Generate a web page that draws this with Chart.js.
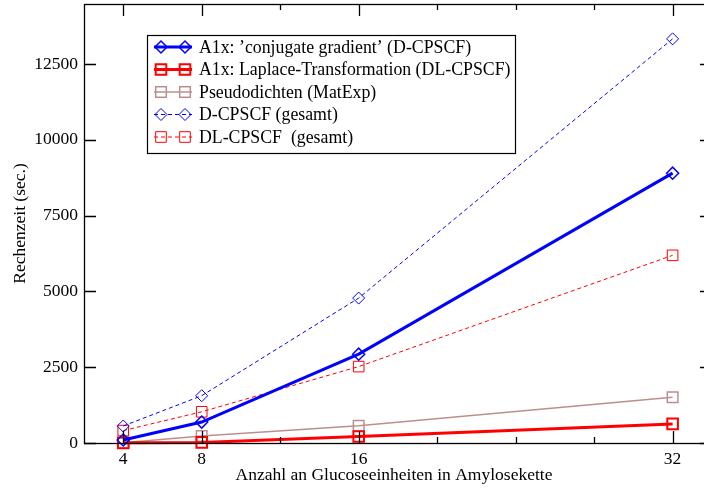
<!DOCTYPE html>
<html>
<head>
<meta charset="utf-8">
<script src="https://cdn.jsdelivr.net/npm/chart.js@4"></script>
<style>
  html, body { margin: 0; padding: 0; background: #fff; }
</style>
</head>
<body>
<canvas id="graph" width="704" height="491"></canvas>
<script>
// values
const glucoseUnits = [4, 8, 16, 32];
const cgA1x = [100, 690, 2930, 8900];
const laplaceA1x = [5, 20, 215, 630];
const pseudoDensities = [10, 230, 565, 1510];
const dTotal = [560, 1560, 4780, 13330];
const dlTotal = [410, 1030, 2520, 6190];

const seriesLabels = [
  'A1x: \u2019conjugate gradient\u2019 (D-CPSCF)',
  'A1x: Laplace-Transformation (DL-CPSCF)',
  'Pseudodichten (MatExp)',
  'D-CPSCF (gesamt)',
  'DL-CPSCF  (gesamt)'
];
const yTickValues = [0, 2500, 5000, 7500, 10000, 12500];
const xMinorTicks = [12, 20, 24, 28];

const canvas = document.getElementById('graph');
const ctx = canvas.getContext('2d');

Chart.defaults.font.family = "'Liberation Serif', 'Times New Roman', serif";
Chart.defaults.font.size = 17.5;
Chart.defaults.color = '#000';

function series(label, values, color, width, dash, style, radius, pw) {
  return {
    label: label,
    data: glucoseUnits.map((x, i) => ({ x: x, y: values[i] })),
    borderColor: color,
    borderWidth: width,
    borderDash: dash,
    pointStyle: style,
    pointRadius: radius,
    pointBorderWidth: pw,
    pointBorderColor: color,
    pointBackgroundColor: 'rgba(0,0,0,0)',
    fill: false,
    tension: 0,
    clip: false
  };
}

const datasets = [
  series(seriesLabels[0], cgA1x, '#0000ff', 3, [], 'rectRot', 6, 1.5),
  series(seriesLabels[1], laplaceA1x, '#ff0000', 3, [], 'rect', 7.5, 2),
  series(seriesLabels[2], pseudoDensities, '#bc8f8f', 1.5, [], 'rect', 7.5, 1.5),
  series(seriesLabels[3], dTotal, '#0000ff', 1, [4, 3], 'rectRot', 6, 1),
  series(seriesLabels[4], dlTotal, '#ff0000', 1, [4, 3], 'rect', 7.5, 1)
];

// frame with inward ticks, like the xmgrace original
// (the right edge of the frame lies just outside the picture)
const frameTicks = {
  id: 'frameTicks',
  afterDraw(chart) {
    const c = chart.ctx;
    const a = chart.chartArea;
    const xs = chart.scales.x, ys = chart.scales.y;
    c.save();
    c.strokeStyle = '#000';
    c.lineWidth = 1.3;
    c.setLineDash([]);
    c.strokeRect(a.left + 0.5, a.top + 0.5, a.right - a.left + 8, a.bottom - a.top);
    c.beginPath();
    glucoseUnits.forEach(v => {
      const px = Math.round(xs.getPixelForValue(v)) + 0.5;
      c.moveTo(px, a.bottom); c.lineTo(px, a.bottom - 12);
      c.moveTo(px, a.top); c.lineTo(px, a.top + 12);
    });
    xMinorTicks.forEach(v => {
      const px = Math.round(xs.getPixelForValue(v)) + 0.5;
      c.moveTo(px, a.bottom); c.lineTo(px, a.bottom - 6);
      c.moveTo(px, a.top); c.lineTo(px, a.top + 6);
    });
    yTickValues.forEach(v => {
      const py = Math.round(ys.getPixelForValue(v)) + 0.5;
      c.moveTo(a.left, py); c.lineTo(a.left + 12, py);
      c.moveTo(a.right, py); c.lineTo(a.right - 4, py);
    });
    c.stroke();
    c.restore();
  }
};

// legend box drawn inside the plot
const legendBox = {
  id: 'legendBox',
  afterDraw(chart) {
    const c = chart.ctx;
    const bx = 147, by = 35, bw = 368, bh = 118;
    c.save();
    c.fillStyle = '#fff';
    c.fillRect(bx, by, bw, bh);
    c.strokeStyle = '#000';
    c.lineWidth = 1.2;
    c.strokeRect(bx + 0.5, by + 0.5, bw, bh);
    c.font = "17.8px 'Liberation Serif', serif";
    c.textBaseline = 'middle';
    chart.data.datasets.forEach((ds, i) => {
      const y = 47 + 22.5 * i;
      c.strokeStyle = ds.borderColor;
      c.lineWidth = ds.borderWidth;
      c.setLineDash(ds.borderDash);
      c.beginPath();
      c.moveTo(154, y); c.lineTo(192, y);
      c.stroke();
      c.setLineDash([]);
      c.lineWidth = ds.pointBorderWidth;
      [161, 185].forEach(mx => {
        c.beginPath();
        if (ds.pointStyle === 'rectRot') {
          const r = ds.pointRadius;
          c.moveTo(mx - r, y); c.lineTo(mx, y - r); c.lineTo(mx + r, y); c.lineTo(mx, y + r); c.closePath();
        } else {
          const s = ds.pointRadius * Math.SQRT1_2;
          c.rect(mx - s, y - s, 2 * s, 2 * s);
        }
        c.stroke();
      });
      c.fillStyle = '#000';
      c.fillText(ds.label, 199, y + 1);
    });
    c.restore();
  }
};

new Chart(ctx, {
  type: 'line',
  data: { datasets: datasets },
  options: {
    responsive: false,
    animation: false,
    devicePixelRatio: 1,
    layout: { autoPadding: false, padding: { top: 4, right: 0, left: 0, bottom: 0 } },
    plugins: {
      legend: { display: false },
      tooltip: { enabled: false }
    },
    scales: {
      x: {
        type: 'linear',
        min: 2,
        max: 33.6,
        afterBuildTicks: s => { s.ticks = glucoseUnits.map(v => ({ value: v })); },
        afterFit: s => { s.height = 48; s.paddingLeft = 0; s.paddingRight = 0; },
        grid: { display: false, drawTicks: false },
        border: { display: false },
        ticks: { padding: 6, autoSkip: false, maxRotation: 0, callback: v => String(v) },
        title: {
          display: true,
          text: 'Anzahl an Glucoseeinheiten in Amylosekette',
          padding: { top: 0, bottom: 5 }
        }
      },
      y: {
        type: 'linear',
        min: 0,
        max: 14480,
        afterBuildTicks: s => { s.ticks = yTickValues.map(v => ({ value: v })); },
        afterFit: s => { s.width = 84; s.paddingTop = 0; s.paddingBottom = 0; },
        grid: { display: false, drawTicks: false },
        border: { display: false },
        ticks: { padding: 6, callback: v => String(v) },
        title: {
          display: true,
          text: 'Rechenzeit (sec.)',
          padding: { top: 10, bottom: 0 }
        }
      }
    }
  },
  plugins: [frameTicks, legendBox]
});
</script>
</body>
</html>
